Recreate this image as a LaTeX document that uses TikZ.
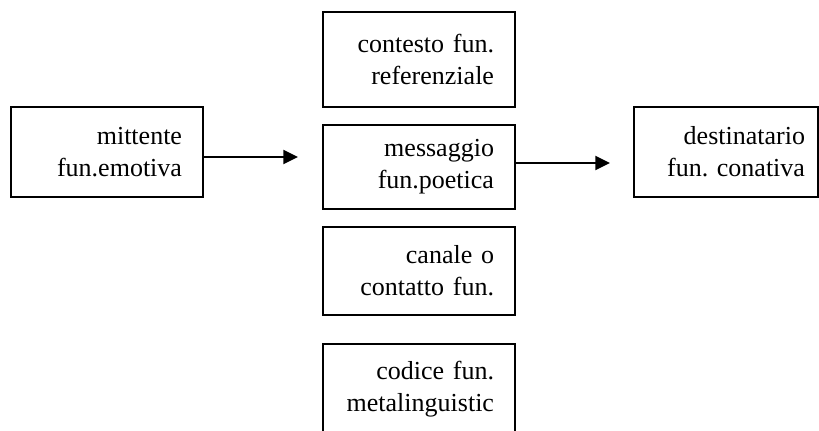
\documentclass[tikz,border=0pt]{standalone}
\usepackage{fontspec}
\setmainfont{Liberation Serif}
\frenchspacing
\usetikzlibrary{positioning,arrows.meta}
\tikzset{
        % boxes of the schema
        funbox/.style={draw, rectangle, line width=1.1pt, align=right, inner xsep=15.75pt, inner ysep=0pt,
                text width=112.5pt, minimum width=144pt, font=\fontsize{19.5pt}{24pt}\selectfont},
        % arrows between the boxes
        funarrow/.style={line width=1.6pt, -{Triangle[length=11pt,width=10.5pt]}}
}
\begin{document}
\begin{tikzpicture}[x=0.75pt, y=-0.75pt]
    \useasboundingbox (0,0) rectangle (819,430);
    % middle column
    \node[funbox, minimum height=63pt] (mess) at (419,167) {messaggio\\fun.poetica};
    \node[funbox, minimum height=71.25pt] (cont) at (419,59.5) {contesto fun.\\referenziale};
    \node[funbox, minimum height=66pt] (can) at (419,271) {canale o\\contatto fun.};
    \node[funbox, minimum height=67.5pt] (cod) at (419,389) {codice fun.\\metalinguistic};
    % sender and receiver
    \node[funbox, minimum height=67.5pt] (mitt) at (107,152) {mittente\\fun.emotiva};
    \node[funbox, minimum height=67.5pt, text width=118.5pt, inner xsep=9.75pt, minimum width=138pt] (dest) at (726,152) {destinatario\\fun. conativa};
    % arrows
    \coordinate (tipA) at (298,157);
    \coordinate (tipB) at (610,163);
    \draw[funarrow] (mitt.east |- tipA) -- (tipA);
    \draw[funarrow] (mess.east |- tipB) -- (tipB);
\end{tikzpicture}
\end{document}
